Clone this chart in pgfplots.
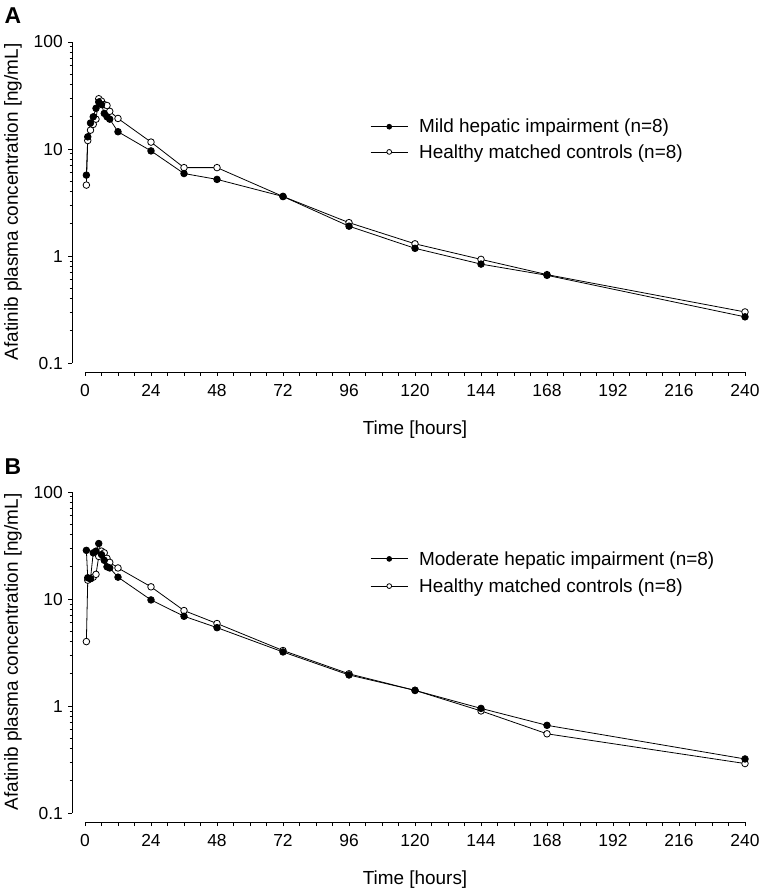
\documentclass[border=0pt]{standalone}
\usepackage{pgfplots}
\usepackage{pgfplotstable}
\pgfplotsset{compat=1.18}
\usepackage{fontspec}
\setmainfont{Liberation Sans}

\pgfplotstableread{
t c
0.5 5.7
1 13
2 17.5
3 20
4 24
5 27.5
6 26
7 21.5
8 20
9 19
12 14.5
24 9.6
36 5.9
48 5.2
72 3.6
96 1.9
120 1.18
144 0.84
168 0.66
240 0.27
}\mildA

\pgfplotstableread{
t c
0.5 4.6
1 12
2 15
3 17
4 19
5 29.5
6 28
7 26
8 25.5
9 22.5
12 19.3
24 11.6
36 6.7
48 6.7
72 3.6
96 2.05
120 1.3
144 0.93
168 0.67
240 0.30
}\ctrlA

\pgfplotstableread{
t c
0.5 28.5
1 15.8
2 15.5
3 27
4 28
5 33
6 26
7 23
8 20
9 19.5
12 16
24 9.8
36 6.9
48 5.4
72 3.2
96 1.95
120 1.4
144 0.95
168 0.66
240 0.32
}\modB

\pgfplotstableread{
t c
0.5 4.0
1 15
2 15.5
3 16
4 17
5 25
6 28
7 27
8 24
9 22
12 19.5
24 13
36 7.8
48 5.9
72 3.3
96 2.0
120 1.4
144 0.9
168 0.55
240 0.29
}\ctrlB

\pgfplotsset{
  legend image code/.code={\draw[mark repeat=2,mark phase=2,#1,mark size=2.4bp] plot coordinates {(0bp,0bp) (18.5bp,0bp) (37bp,0bp)};},
}

\begin{document}
\begin{tikzpicture}
\useasboundingbox (0,0) rectangle (760bp,-895bp);

\pgfplotsset{
  every axis/.append style={
    scale only axis, width=673bp, height=330bp,
    xmin=-4.727, xmax=240, ymin=0.0824, ymax=100,
    clip=false,
    axis x line*=bottom, axis y line*=left,
    x axis line style={draw=none}, y axis line style={draw=none},
    xtick={0,6,...,240},
    xticklabels={0,,,,24,,,,48,,,,72,,,,96,,,,120,,,,144,,,,168,,,,192,,,,216,,,,240},
    ytick={0.1,1,10,100}, yticklabels={0.1,1,10,100},
    minor ytick={0.2,0.3,0.4,0.5,0.6,0.7,0.8,0.9,2,3,4,5,6,7,8,9,20,30,40,50,60,70,80,90},
    tick align=outside, major tick length=4bp, minor tick length=2.5bp,
    every tick/.style={black, line width=0.8bp},
    /pgf/number format/assume math mode=true,
    tick label style={font=\fontsize{17.5}{20}\selectfont},
    xticklabel style={inner sep=0pt, anchor=north, yshift=-8bp},
    yticklabel style={inner sep=0pt, anchor=east, xshift=-5bp},
    reverse legend,
    legend style={draw=none, fill=none, inner sep=0pt, anchor=north west,
      font=\fontsize{19}{21}\selectfont, cells={anchor=west},
      /tikz/every odd column/.append style={column sep=9bp}},
  },
}

% Panel A
\begin{semilogyaxis}[at={(72bp,-372bp)}, anchor=south west,
  legend style={at={(0.443,0.773)}, row sep=6bp}]
\draw[line width=0.9bp] (axis cs:0,0.0824) -- (axis cs:240,0.0824);
\draw[line width=0.9bp] (axis cs:-4.727,0.1) -- (axis cs:-4.727,100);
\addplot[black, line width=0.8bp, mark=*, mark size=3.3bp, mark options={fill=white, line width=0.8bp}] table[x=t,y=c] {\ctrlA};
\addlegendentry{Healthy matched controls (n=8)}
\addplot[black, line width=0.8bp, mark=*, mark size=3.3bp, mark options={fill=black}] table[x=t,y=c] {\mildA};
\addlegendentry{Mild hepatic impairment (n=8)}
\end{semilogyaxis}

% Panel B
\begin{semilogyaxis}[at={(72bp,-822bp)}, anchor=south west,
  legend style={at={(0.443,0.827)}, row sep=8bp}]
\draw[line width=0.9bp] (axis cs:0,0.0824) -- (axis cs:240,0.0824);
\draw[line width=0.9bp] (axis cs:-4.727,0.1) -- (axis cs:-4.727,100);
\addplot[black, line width=0.8bp, mark=*, mark size=3.3bp, mark options={fill=white, line width=0.8bp}] table[x=t,y=c] {\ctrlB};
\addlegendentry{Healthy matched controls (n=8)}
\addplot[black, line width=0.8bp, mark=*, mark size=3.3bp, mark options={fill=black}] table[x=t,y=c] {\modB};
\addlegendentry{Moderate hepatic impairment (n=8)}
\end{semilogyaxis}

\node[font=\fontsize{23}{25}\selectfont\bfseries] at (13bp,-16bp) {A};
\node[font=\fontsize{23}{25}\selectfont\bfseries] at (13bp,-467bp) {B};
\node[rotate=90, font=\fontsize{19}{21}\selectfont] at (13bp,-202bp) {Afatinib plasma concentration [ng/mL]};
\node[rotate=90, font=\fontsize{19}{21}\selectfont] at (13bp,-652bp) {Afatinib plasma concentration [ng/mL]};
\node[font=\fontsize{19}{21}\selectfont] at (415bp,-430bp) {Time [hours]};
\node[font=\fontsize{19}{21}\selectfont] at (415bp,-880bp) {Time [hours]};
\end{tikzpicture}
\end{document}
